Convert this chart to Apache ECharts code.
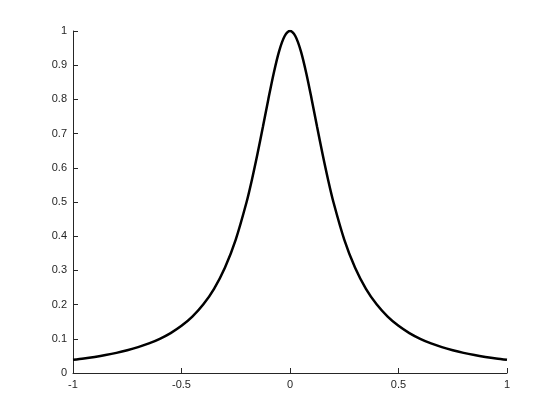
<!DOCTYPE html>
<html>
<head>
<meta charset="utf-8">
<script src="https://cdn.jsdelivr.net/npm/echarts@6/dist/echarts.min.js"></script>
<style>html,body{margin:0;padding:0;background:#fff;}#c{width:560px;height:420px;}</style>
</head>
<body>
<div id="c"></div>
<script>
const xValues = [-1, -0.95, -0.9, -0.85, -0.8, -0.75, -0.7, -0.65, -0.6, -0.55, -0.5, -0.45, -0.4, -0.35, -0.3, -0.25, -0.2, -0.175, -0.15, -0.125, -0.1, -0.075, -0.05, -0.025, 0, 0.025, 0.05, 0.075, 0.1, 0.125, 0.15, 0.175, 0.2, 0.25, 0.3, 0.35, 0.4, 0.45, 0.5, 0.55, 0.6, 0.65, 0.7, 0.75, 0.8, 0.85, 0.9, 0.95, 1];
const yValues = [0.0385, 0.0424, 0.0471, 0.0525, 0.0588, 0.0664, 0.0755, 0.0865, 0.1, 0.1168, 0.1379, 0.1649, 0.2, 0.2462, 0.3077, 0.3902, 0.5, 0.5664, 0.64, 0.7191, 0.8, 0.8767, 0.9412, 0.9846, 1, 0.9846, 0.9412, 0.8767, 0.8, 0.7191, 0.64, 0.5664, 0.5, 0.3902, 0.3077, 0.2462, 0.2, 0.1649, 0.1379, 0.1168, 0.1, 0.0865, 0.0755, 0.0664, 0.0588, 0.0525, 0.0471, 0.0424, 0.0385];

const chart = echarts.init(document.getElementById('c'), null, {renderer: 'canvas'});
const labelStyle = {color: '#262626', fontFamily: 'Liberation Sans, Arial, sans-serif', fontSize: 11, margin: 6};
const tickStyle = {show: true, inside: true, length: 5, lineStyle: {color: '#262626'}};
chart.setOption({
  animation: false,
  backgroundColor: '#fff',
  grid: {left: 73, right: 53, top: 31, bottom: 47},
  xAxis: {
    type: 'value', min: -1, max: 1, interval: 0.5,
    axisLine: {show: true, onZero: false, lineStyle: {color: '#262626', width: 1}},
    axisTick: tickStyle,
    splitLine: {show: false},
    axisLabel: labelStyle
  },
  yAxis: {
    type: 'value', min: 0, max: 1, interval: 0.1,
    axisLine: {show: true, onZero: false, lineStyle: {color: '#262626', width: 1}},
    axisTick: tickStyle,
    splitLine: {show: false},
    axisLabel: labelStyle
  },
  series: [{
    type: 'line',
    data: xValues.map((x, i) => [x, yValues[i]]),
    showSymbol: false,
    smooth: 0.3,
    lineStyle: {color: '#000', width: 2.5}
  }]
});
</script>
</body>
</html>
